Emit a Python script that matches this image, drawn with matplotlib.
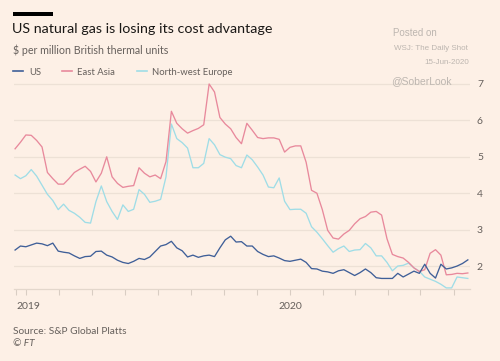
import matplotlib
matplotlib.use("Agg")
import matplotlib.pyplot as plt
import matplotlib.transforms as mtransforms
from matplotlib.patches import Rectangle
from matplotlib.lines import Line2D
import pandas as pd

# 5-day samples, $ per million BTU
dates = pd.date_range("2019-04-21", periods=85, freq="5D")

east_asia = [
    5.22, 5.40, 5.60, 5.59, 5.45, 5.27, 4.57, 4.40, 4.25, 4.25,
    4.40, 4.57, 4.66, 4.74, 4.60, 4.31, 4.55, 5.00, 4.45, 4.27,
    4.16, 4.19, 4.21, 4.70, 4.55, 4.45, 4.50, 4.40, 4.87, 6.25,
    5.92, 5.77, 5.65, 5.72, 5.78, 5.88, 7.00, 6.78, 6.08, 5.90,
    5.77, 5.53, 5.36, 5.92, 5.73, 5.53, 5.50, 5.52, 5.52, 5.48,
    5.13, 5.26, 5.30, 5.30, 4.85, 4.08, 4.00, 3.55, 2.98, 2.77,
    2.74, 2.88, 2.98, 3.16, 3.30, 3.36, 3.48, 3.50, 3.40, 2.75,
    2.32, 2.26, 2.22, 2.10, 1.95, 1.85, 1.90, 2.35, 2.45, 2.30,
    1.76, 1.77, 1.80, 1.79, 1.81,
]
nw_europe = [
    4.50, 4.40, 4.48, 4.65, 4.47, 4.22, 3.97, 3.80, 3.55, 3.70,
    3.53, 3.45, 3.34, 3.20, 3.18, 3.77, 4.20, 3.77, 3.50, 3.28,
    3.68, 3.50, 3.56, 4.10, 3.97, 3.75, 3.78, 3.83, 4.45, 5.90,
    5.50, 5.39, 5.24, 4.70, 4.70, 4.82, 5.50, 5.33, 5.06, 4.99,
    4.95, 4.76, 4.70, 5.05, 4.92, 4.72, 4.50, 4.17, 4.15, 4.42,
    3.78, 3.55, 3.56, 3.56, 3.45, 3.08, 2.93, 2.75, 2.56, 2.38,
    2.48, 2.55, 2.40, 2.44, 2.45, 2.62, 2.50, 2.28, 2.28, 2.10,
    1.87, 2.00, 2.02, 2.08, 1.95, 1.86, 1.70, 1.64, 1.58, 1.50,
    1.40, 1.40, 1.70, 1.68, 1.66,
]
us = [
    2.44, 2.55, 2.53, 2.58, 2.63, 2.61, 2.56, 2.63, 2.41, 2.38,
    2.36, 2.28, 2.21, 2.26, 2.27, 2.40, 2.41, 2.30, 2.25, 2.16,
    2.10, 2.07, 2.13, 2.21, 2.18, 2.25, 2.40, 2.55, 2.59, 2.68,
    2.50, 2.42, 2.25, 2.30, 2.24, 2.28, 2.30, 2.26, 2.50, 2.72,
    2.82, 2.66, 2.67, 2.55, 2.55, 2.40, 2.32, 2.26, 2.28, 2.22,
    2.15, 2.13, 2.16, 2.19, 2.10, 1.93, 1.92, 1.86, 1.84, 1.80,
    1.87, 1.90, 1.82, 1.74, 1.82, 1.92, 1.82, 1.68, 1.66, 1.66,
    1.66, 1.80, 1.70, 1.78, 1.86, 1.80, 2.05, 1.80, 1.67, 2.05,
    1.92, 1.95, 2.00, 2.07, 2.17,
]

series_names = ["US", "East Asia", "North-west Europe"]
series_colors = ["#3f5f98", "#e8899c", "#9fdde6"]

y_ticks = [2, 3, 4, 5, 6, 7]
month_ticks = pd.date_range("2019-05-01", "2020-06-01", freq="MS")
year_labels = [("2019", pd.Timestamp("2019-04-22"), "left"),
               ("2020", pd.Timestamp("2020-01-01"), "center")]

bg = "#fdf0e6"
text_grey = "#66605c"
grid_col = "#ede1d6"

plt.rcParams["font.family"] = ["Lato", "DejaVu Sans"]

W, H = 500, 361
fig = plt.figure(figsize=(W / 100, H / 100), dpi=100)
fig.patch.set_facecolor(bg)


def fx(x):
    return x / W


def fy(y):
    return 1 - y / H


ax = fig.add_axes([fx(14), fy(289), fx(470) - fx(14), fy(76.7) - fy(289)])
ax.set_facecolor(bg)

for vals, col in zip([nw_europe, east_asia, us], [series_colors[2], series_colors[1], series_colors[0]]):
    ax.plot(dates, vals, color=col, linewidth=0.95, zorder=3)

ax.set_xlim(pd.Timestamp("2019-04-20"), pd.Timestamp("2020-06-16"))
ax.set_ylim(1.37, 7.2)

ax.set_yticks(y_ticks)
ax.yaxis.tick_right()
ax.tick_params(axis="y", length=0, pad=5, labelsize=7.5, labelcolor=text_grey)
ax.yaxis.grid(True, color=grid_col, linewidth=0.9, zorder=0)

ax.set_xticks(list(month_ticks) + [pd.Timestamp("2019-04-22")])
ax.set_xticklabels([])
ax.tick_params(axis="x", length=4, width=0.8, color="#d9cdc3", direction="out")

for s in ["top", "left", "right"]:
    ax.spines[s].set_visible(False)
ax.spines["bottom"].set_color("#e3d7cc")
ax.spines["bottom"].set_linewidth(0.9)

trans = mtransforms.blended_transform_factory(ax.transData, fig.transFigure)
for lab, d, ha in year_labels:
    ax.text(d, fy(309), lab, transform=trans, ha=ha, va="baseline",
            fontsize=7.5, color=text_grey)

# header
fig.add_artist(Rectangle((fx(13), fy(15.5)), fx(40), 3 / H,
                         transform=fig.transFigure, color="black", lw=0))
fig.text(fx(12.5), fy(32.7), "US natural gas is losing its cost advantage",
         fontsize=10.3, color="#1a1816", va="baseline")
fig.text(fx(13), fy(54.5), "$ per million British thermal units",
         fontsize=7.7, color=text_grey, va="baseline")

# legend
leg_x = [(13, 29), (62, 77), (137, 152)]
for (lx, tx), name, col in zip(leg_x, series_names, series_colors):
    fig.add_artist(Line2D([fx(lx), fx(lx + 10)], [fy(71), fy(71)],
                          transform=fig.transFigure, color=col, lw=1.2))
    fig.text(fx(tx), fy(75), name, fontsize=6.8, color=text_grey, va="baseline")

# watermark
wm = "#bdb6b0"
fig.text(fx(393), fy(35.5), "Posted on", fontsize=7, color=wm, va="baseline",
         family=["Liberation Sans", "DejaVu Sans"])
fig.text(fx(393.5), fy(49.5), "WSJ: The Daily Shot", fontsize=5.8, color=wm,
         va="baseline", family=["Liberation Sans", "DejaVu Sans"])
fig.text(fx(469), fy(64), "15-Jun-2020", fontsize=5.8, color=wm, va="baseline",
         ha="right", family=["Liberation Sans", "DejaVu Sans"])
fig.text(fx(391), fy(84), "@SoberLook", fontsize=7.5, color=wm, va="baseline",
         family=["Liberation Sans", "DejaVu Sans"])

# footer
fig.text(fx(13), fy(334), "Source: S&P Global Platts", fontsize=7.3,
         color=text_grey, va="baseline")
fig.text(fx(13), fy(346.5), "© FT", fontsize=7.3, color=text_grey,
         va="baseline", style="italic")

fig.savefig("out.png", dpi=100, facecolor=bg)
